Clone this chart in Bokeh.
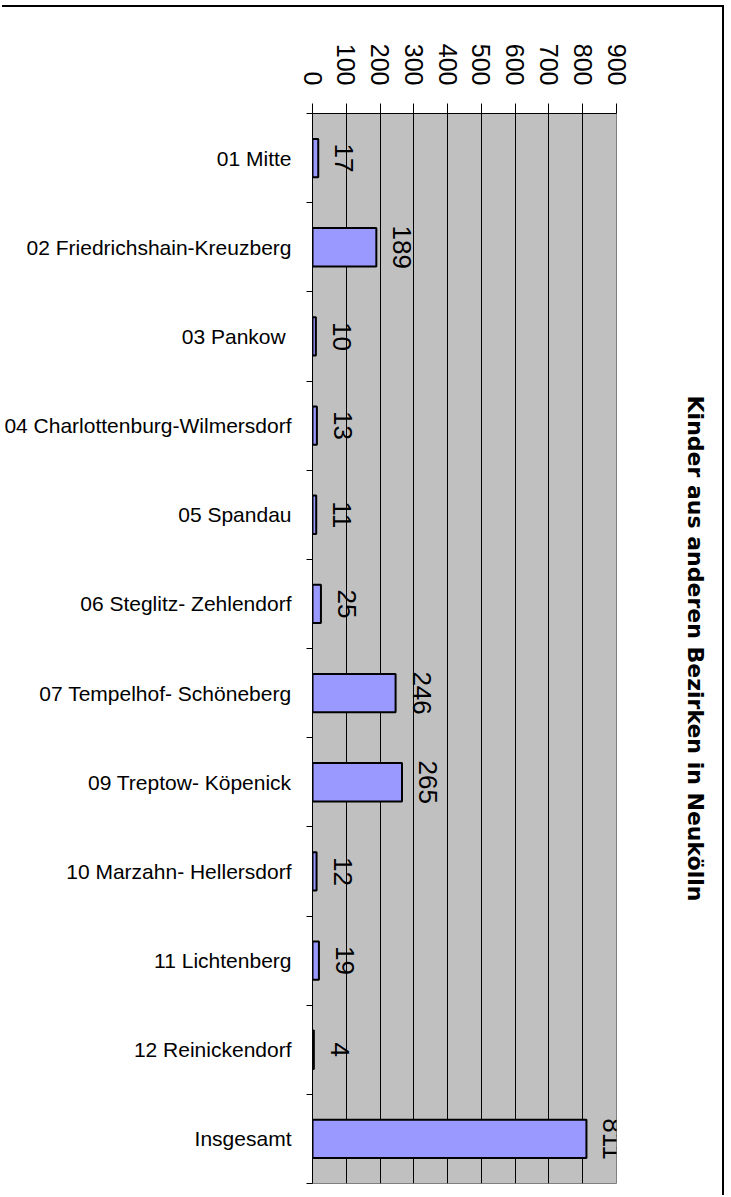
import math
from bokeh.plotting import figure
from bokeh.models import Range1d, FixedTicker, LabelSet, ColumnDataSource, LinearAxis
from bokeh.embed import file_html
from bokeh.resources import INLINE
from bokeh.core.properties import value

categories = [
    "01 Mitte",
    "02 Friedrichshain-Kreuzberg",
    "03  Pankow",
    "04 Charlottenburg-Wilmersdorf",
    "05 Spandau",
    "06 Steglitz- Zehlendorf",
    "07 Tempelhof- Schöneberg",
    "09 Treptow- Köpenick",
    "10 Marzahn- Hellersdorf",
    "11 Lichtenberg",
    "12 Reinickendorf",
    "Insgesamt",
]
values = [17, 189, 10, 13, 11, 25, 246, 265, 12, 19, 4, 811]
x_ticks = [0, 100, 200, 300, 400, 500, 600, 700, 800, 900]
title_text = "Kinder aus anderen Bezirken in Neukölln"

n = len(categories)
positions = list(range(1, n + 1))
boundaries = [i + 0.5 for i in range(n + 1)]

src = ColumnDataSource(dict(
    pos=positions,
    val=values,
    label=[str(v) for v in values],
))

p = figure(
    width=722, height=1190,
    x_range=Range1d(x_ticks[0], x_ticks[-1]),
    y_range=Range1d(n + 0.5, 0.5),
    x_axis_location="above",
    output_backend="svg", toolbar_location=None,
    min_border_left=312, min_border_right=106,
    min_border_top=106, min_border_bottom=14,
)
p.styles = {"margin-top": "7px", "box-shadow": "2px -2px 0px 0px black"}

p.background_fill_color = "#C0C0C0"
p.border_fill_color = "white"
p.outline_line_color = "#808080"
p.outline_line_width = 1

# top value axis
xa = p.xaxis[0]
xa.ticker = FixedTicker(ticks=x_ticks)
xa.major_label_orientation = -math.pi / 2
xa.major_label_text_font = "Liberation Sans"
xa.major_label_text_font_size = "25px"
xa.major_label_text_color = "black"
xa.major_label_standoff = 18
xa.major_tick_out = 10
xa.major_tick_in = 0
xa.minor_tick_out = 0
xa.minor_tick_in = 0
xa.major_tick_line_color = "black"
xa.axis_line_color = "black"

# left category axis
ya = p.yaxis[0]
ya.ticker = FixedTicker(ticks=positions, minor_ticks=boundaries)
ya.major_label_overrides = {pp: c for pp, c in zip(positions, categories)}
ya.major_label_text_font = "Liberation Sans"
ya.major_label_text_font_size = "21px"
ya.major_label_text_color = "black"
ya.major_label_standoff = 15
ya.major_tick_out = 0
ya.major_tick_in = 0
ya.minor_tick_out = 6
ya.minor_tick_in = 0
ya.minor_tick_line_color = "black"
ya.axis_line_color = "black"

# right side: title as the label of a bare axis
ra = LinearAxis(ticker=FixedTicker(ticks=[]), axis_label=title_text)
ra.axis_line_color = None
ra.major_tick_out = 0
ra.major_tick_in = 0
ra.minor_tick_out = 0
ra.minor_tick_in = 0
ra.major_label_standoff = 0
ra.axis_label_standoff = 66
ra.axis_label_text_font = "DejaVu Sans"
ra.axis_label_text_font_style = "bold"
ra.axis_label_text_font_size = "22px"
ra.axis_label_text_color = "black"
p.add_layout(ra, "right")

p.xgrid.grid_line_color = "black"
p.xgrid.grid_line_width = 1
p.ygrid.visible = False

p.hbar(y="pos", left=0, right="val", height=0.43, source=src,
       fill_color="#9999FF", line_color="black", line_width=2)

labels = LabelSet(x="val", y="pos", text="label", source=src,
                  angle=-math.pi / 2, x_offset=17,
                  text_align="center", text_baseline="alphabetic",
                  text_font=value("Liberation Sans"), text_font_size=value("26px"),
                  text_color="black")
p.add_layout(labels)

open("out.html", "w").write(file_html(p, INLINE))
